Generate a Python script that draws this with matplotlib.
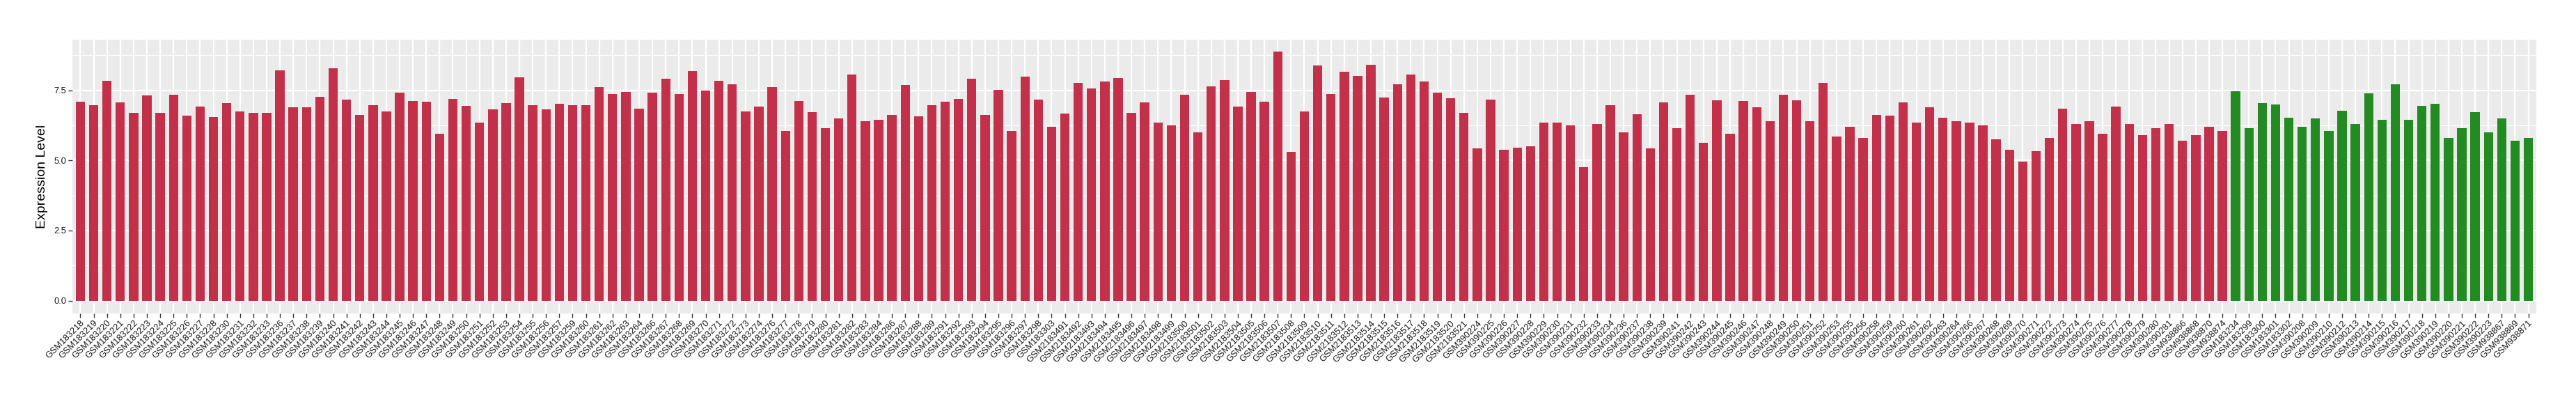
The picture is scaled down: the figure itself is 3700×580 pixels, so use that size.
import numpy as np
import matplotlib
matplotlib.use("Agg")
import matplotlib.pyplot as plt
from matplotlib.ticker import MultipleLocator

plt.rcParams['font.family'] = ['Liberation Sans', 'DejaVu Sans']

# samples drawn in red
red_samples = [
    "GSM183218", "GSM183219", "GSM183220", "GSM183221", "GSM183222", "GSM183223",
    "GSM183224", "GSM183225", "GSM183226", "GSM183227", "GSM183228", "GSM183230",
    "GSM183231", "GSM183232", "GSM183233", "GSM183236", "GSM183237", "GSM183238",
    "GSM183239", "GSM183240", "GSM183241", "GSM183242", "GSM183243", "GSM183244",
    "GSM183245", "GSM183246", "GSM183247", "GSM183248", "GSM183249", "GSM183250",
    "GSM183251", "GSM183252", "GSM183253", "GSM183254", "GSM183255", "GSM183256",
    "GSM183257", "GSM183259", "GSM183260", "GSM183261", "GSM183262", "GSM183263",
    "GSM183264", "GSM183266", "GSM183267", "GSM183268", "GSM183269", "GSM183270",
    "GSM183271", "GSM183272", "GSM183273", "GSM183274", "GSM183276", "GSM183277",
    "GSM183278", "GSM183279", "GSM183280", "GSM183281", "GSM183282", "GSM183283",
    "GSM183284", "GSM183286", "GSM183287", "GSM183288", "GSM183289", "GSM183291",
    "GSM183292", "GSM183293", "GSM183294", "GSM183295", "GSM183296", "GSM183297",
    "GSM183298", "GSM183303",
    "GSM2183491", "GSM2183492", "GSM2183493", "GSM2183494", "GSM2183495", "GSM2183496",
    "GSM2183497", "GSM2183498", "GSM2183499", "GSM2183500", "GSM2183501", "GSM2183502",
    "GSM2183503", "GSM2183504", "GSM2183505", "GSM2183506", "GSM2183507", "GSM2183508",
    "GSM2183509", "GSM2183510", "GSM2183511", "GSM2183512", "GSM2183513", "GSM2183514",
    "GSM2183515", "GSM2183516", "GSM2183517", "GSM2183518", "GSM2183519", "GSM2183520",
    "GSM2183521",
    "GSM390224", "GSM390225", "GSM390226", "GSM390227", "GSM390228", "GSM390229",
    "GSM390230", "GSM390231", "GSM390232", "GSM390233", "GSM390234", "GSM390236",
    "GSM390237", "GSM390238", "GSM390239", "GSM390241", "GSM390242", "GSM390243",
    "GSM390244", "GSM390245", "GSM390246", "GSM390247", "GSM390248", "GSM390249",
    "GSM390250", "GSM390251", "GSM390252", "GSM390253", "GSM390255", "GSM390256",
    "GSM390258", "GSM390259", "GSM390260", "GSM390261", "GSM390262", "GSM390263",
    "GSM390264", "GSM390266", "GSM390267", "GSM390268", "GSM390269", "GSM390270",
    "GSM390271", "GSM390272", "GSM390273", "GSM390274", "GSM390275", "GSM390276",
    "GSM390277", "GSM390278", "GSM390279", "GSM390280", "GSM390281",
    "GSM938866", "GSM938868", "GSM938870", "GSM938874",
]
red_values = [
    7.09, 6.96, 7.84, 7.07, 6.69, 7.32, 6.69, 7.34, 6.59, 6.91, 6.54, 7.04,
    6.74, 6.69, 6.69, 8.22, 6.89, 6.89, 7.27, 8.29, 7.17, 6.61, 6.96, 6.74,
    7.42, 7.12, 7.09, 5.96, 7.19, 6.94, 6.34, 6.81, 7.04, 7.97, 6.96, 6.81,
    7.02, 6.96, 6.96, 7.62, 7.37, 7.44, 6.84, 7.42, 7.92, 7.37, 8.19, 7.49,
    7.84, 7.72, 6.74, 6.91, 7.62, 6.06, 7.12, 6.71, 6.14, 6.49, 8.07, 6.39,
    6.44, 6.61, 7.69, 6.56, 6.96, 7.09, 7.19, 7.92, 6.61, 7.52, 6.06, 7.99,
    7.17, 6.19, 6.66, 7.77, 7.57, 7.82, 7.94, 6.69, 7.07, 6.36, 6.26, 7.34,
    5.99, 7.64, 7.87, 6.91, 7.44, 7.09, 8.87, 5.31, 6.74, 8.39, 7.37, 8.17,
    8.02, 8.42, 7.24, 7.72, 8.07, 7.82, 7.42, 7.22, 6.69, 5.43, 7.17, 5.38,
    5.46, 5.51, 6.34, 6.34, 6.26, 4.76, 6.31, 6.96, 6.01, 6.64, 5.43, 7.07,
    6.16, 7.34, 5.64, 7.14, 5.94, 7.12, 6.89, 6.39, 7.34, 7.14, 6.41, 7.77,
    5.86, 6.21, 5.79, 6.61, 6.59, 7.07, 6.34, 6.89, 6.51, 6.41, 6.36, 6.24,
    5.76, 5.38, 4.96, 5.33, 5.81, 6.84, 6.31, 6.41, 5.94, 6.91, 6.29, 5.91,
    6.16, 6.31, 5.71, 5.89, 6.19, 6.04,
]

# samples drawn in green
green_samples = [
    "GSM183234", "GSM183299", "GSM183300", "GSM183301", "GSM183302",
    "GSM390208", "GSM390209", "GSM390210", "GSM390212", "GSM390213", "GSM390214",
    "GSM390215", "GSM390216", "GSM390217", "GSM390218", "GSM390219", "GSM390220",
    "GSM390221", "GSM390222", "GSM390223",
    "GSM938867", "GSM938869", "GSM938871",
]
green_values = [
    7.47, 6.14, 7.04, 6.99, 6.51, 6.19, 6.49, 6.04, 6.76, 6.31, 7.39, 6.44,
    7.72, 6.44, 6.94, 7.02, 5.81, 6.16, 6.71, 5.99, 6.49, 5.71, 5.79,
]

red_color = "#C3304A"
green_color = "#228B22"

samples = red_samples + green_samples
values = np.array(red_values + green_values)
colors = [red_color] * len(red_values) + [green_color] * len(green_values)
x = np.arange(len(samples))

fig = plt.figure(figsize=(37, 5.8), dpi=100)
ax = fig.add_axes([0.0281, 0.225, 0.9565, 0.6774])
ax.set_facecolor("#EBEBEB")

ax.bar(x, values, width=0.7, color=colors, zorder=3)

vmax = values.max()
ax.set_ylim(-0.05 * vmax, 1.05 * vmax)
ax.set_xlim(-0.6, len(samples) - 1 + 0.6)

ax.yaxis.set_minor_locator(MultipleLocator(1.25))
ax.set_yticks([0, 2.5, 5.0, 7.5])
ax.set_yticklabels(["0.0", "2.5", "5.0", "7.5"])
ax.set_xticks(x)
ax.set_xticklabels(samples, rotation=45, ha="right", va="top",
                   rotation_mode="anchor")

ax.grid(True, which="major", axis="both", color="white", linewidth=1.6, zorder=0)
ax.grid(True, which="minor", axis="y", color="white", linewidth=0.8, zorder=0)
ax.set_axisbelow(True)

for s in ax.spines.values():
    s.set_visible(False)

ax.tick_params(axis="both", which="major", length=4, width=1, color="#333333",
               labelsize=9.3, labelcolor="#1A1A1A", pad=2)
ax.tick_params(axis="y", which="minor", length=0)

ax.set_ylabel("Expression Level", fontsize=14, color="black", labelpad=6)

fig.savefig("out.png", dpi=100)
